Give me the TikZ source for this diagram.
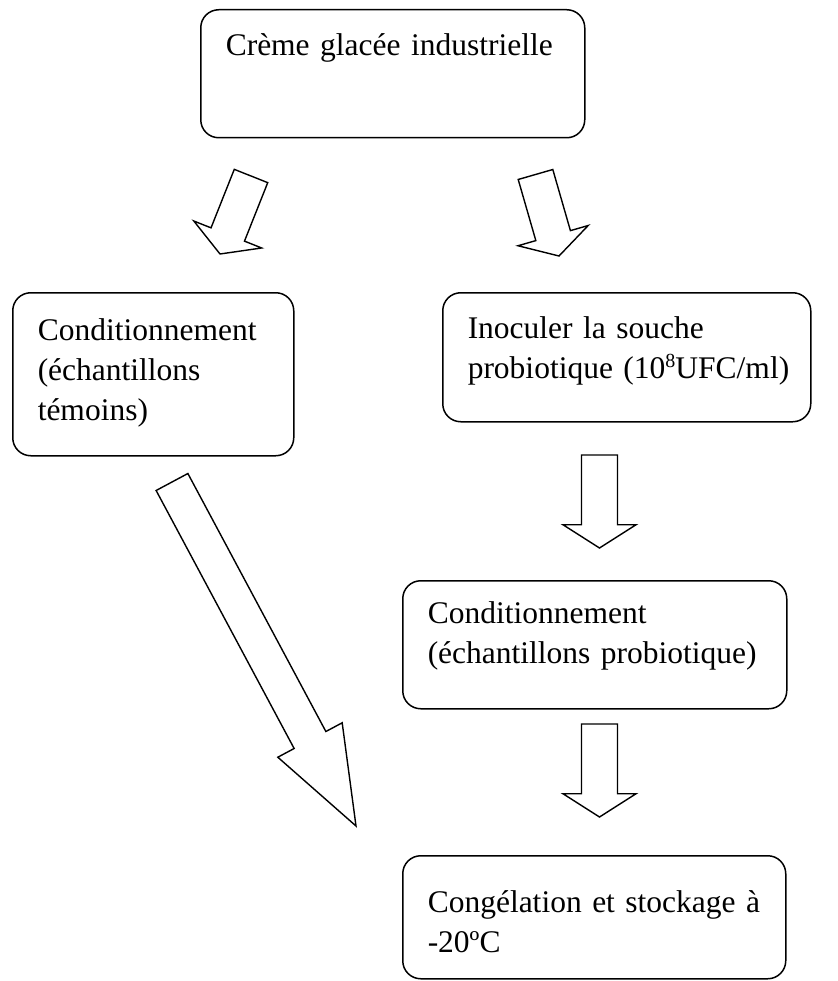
\documentclass[tikz,border=0pt]{standalone}
\usepackage{fontspec}
\setmainfont{Liberation Serif}
\usetikzlibrary{calc}
\tikzstyle{stepbox} = [draw, line width=1.5pt, rounded corners=18pt, anchor=north west, align=left, inner xsep=25pt, inner ysep=0pt, font=\fontsize{31.5}{40}\selectfont]
\tikzstyle{fatline} = [line width=1.4pt, line join=miter]
\newcommand{\expo}[1]{\raisebox{11pt}{\fontsize{20}{20}\selectfont #1}}

% hollow block arrow from #1 (tail) to #2 (tip)
\newcommand{\fatarrow}[2]{%
  \coordinate (hb) at ($(#2)!0.25!(#1)$);
  \draw[fatline] ($(#1)!18pt!90:(#2)$) -- ($(hb)!18pt!-90:(#1)$) -- ($(hb)!36.5pt!-90:(#1)$) -- (#2)
    -- ($(hb)!36.5pt!90:(#1)$) -- ($(hb)!18pt!90:(#1)$) -- ($(#1)!18pt!-90:(#2)$) -- cycle;}

\begin{document}
\begin{tikzpicture}[x=1pt, y=-1pt]
    \useasboundingbox (0,0) rectangle (837,981);

    \node[stepbox, text width=334pt, text height=46pt, text depth=82pt] (cream) at (200,9) {Crème glacée industrielle};
    \node[stepbox, text width=231pt, text height=48pt, text depth=115pt] (control) at (12,292) {Conditionnement\\(échantillons\\témoins)};
    \node[stepbox, text width=318pt, text height=46pt, text depth=83pt] (inoc) at (442,292) {Inoculer la souche\\probiotique~(10\expo{8}UFC/ml)};
    \node[stepbox, text width=334pt, text height=43pt, text depth=85pt] (probio) at (402,580) {Conditionnement\\(échantillons probiotique)};
    \node[stepbox, text width=333pt, text height=57pt, text depth=66pt] (freeze) at (402,855) {Congélation et stockage à\\-20ºC};

    \coordinate (leftfrom) at (251,176);
    \coordinate (leftto) at (220,254);
    \coordinate (rightfrom) at (535.5,174.5);
    \coordinate (rightto) at (559,256);
    \coordinate (ctrlfrom) at (172,482);
    \coordinate (ctrlto) at (356,826);
    \coordinate (inocfrom) at (599.5,455);
    \coordinate (inocto) at (599.5,548);
    \coordinate (probiofrom) at (599.5,724);
    \coordinate (probioto) at (599.5,817);

    \fatarrow{leftfrom}{leftto}
    \fatarrow{rightfrom}{rightto}
    \fatarrow{ctrlfrom}{ctrlto}
    \fatarrow{inocfrom}{inocto}
    \fatarrow{probiofrom}{probioto}

\end{tikzpicture}
\end{document}
